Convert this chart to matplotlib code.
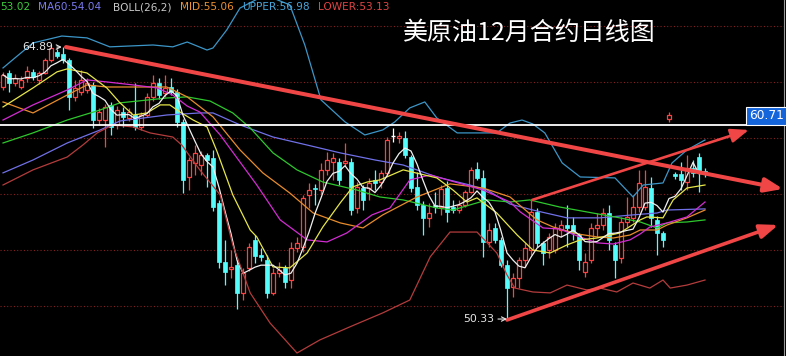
import matplotlib.pyplot as plt
import numpy as np
import pandas as pd

plt.rcParams['font.family'] = ['DejaVu Sans']

# daily candles (price)
opens = [62.73, 63.48, 62.95, 62.73, 63.21, 63.54, 63.11, 63.48, 64.18, 64.61,
         64.50, 64.18, 62.20, 62.47, 62.57, 62.84, 60.96, 60.96, 61.77, 60.70,
         61.39, 61.07, 61.23, 60.59, 61.23, 62.20, 62.95, 62.41, 62.73, 62.47,
         60.86, 57.91, 58.66, 58.55, 59.09, 58.93, 56.52, 53.36, 52.98, 53.20,
         51.70, 53.04, 54.54, 53.73, 53.46, 51.70, 52.77, 53.04, 52.39, 54.11,
         54.16, 56.95, 57.32, 57.21, 58.29, 58.71, 58.71, 58.66, 58.71, 56.25,
         57.32, 57.32, 57.75, 57.64, 58.12, 60.10, 59.98, 59.98, 58.98, 57.38,
         56.41, 55.72, 56.41, 56.30, 57.32, 56.30, 56.14, 56.41, 57.11, 58.34,
         57.86, 54.43, 55.18, 54.54, 53.20, 52.02, 52.50, 53.46, 54.00, 56.04,
         54.38, 54.00, 54.00, 55.07, 55.34, 55.34, 54.80, 52.82, 53.46, 55.18,
         55.34, 55.98, 54.27, 53.57, 55.50, 55.72, 56.30, 56.30, 57.32, 55.61,
         54.91, 61.02, 58.07, 58.07, 57.64, 58.39, 58.98, 58.23]
highs = [63.54, 63.64, 63.40, 63.30, 63.86, 63.70, 63.60, 64.30, 64.86, 64.75,
         64.89, 64.30, 63.10, 63.64, 63.20, 63.00, 61.60, 61.80, 61.90, 61.70,
         61.66, 61.60, 62.95, 61.40, 62.40, 63.38, 63.21, 63.38, 63.21, 62.60,
         61.00, 59.00, 59.62, 59.30, 59.20, 59.36, 56.70, 54.54, 54.00, 53.46,
         53.04, 54.37, 54.80, 54.10, 53.73, 53.04, 53.36, 53.20, 54.43, 54.70,
         56.95, 57.59, 57.54, 58.66, 59.25, 59.20, 58.90, 59.73, 58.90, 57.64,
         57.50, 57.86, 58.29, 58.29, 60.05, 60.54, 60.32, 60.38, 59.10, 58.18,
         56.60, 56.52, 57.11, 57.48, 57.70, 56.68, 56.68, 57.21, 58.45, 58.71,
         58.30, 55.45, 55.45, 54.70, 53.46, 52.77, 53.62, 54.37, 56.68, 56.25,
         54.50, 54.91, 55.45, 55.61, 56.41, 55.77, 54.90, 53.84, 55.45, 55.98,
         56.25, 56.41, 54.40, 55.77, 56.84, 56.95, 58.29, 58.29, 57.91, 55.80,
         55.00, 61.39, 58.20, 58.71, 59.09, 58.82, 59.20, 58.40]
lows = [62.57, 62.47, 62.80, 62.60, 63.00, 63.10, 62.90, 63.40, 64.05, 64.30,
        64.00, 61.50, 62.00, 62.30, 62.40, 60.54, 60.70, 59.52, 60.16, 60.50,
        60.59, 60.90, 60.40, 60.40, 61.10, 62.00, 62.10, 62.20, 62.30, 60.59,
        57.05, 57.21, 58.00, 58.02, 57.38, 56.10, 53.04, 52.12, 52.50, 50.84,
        51.32, 52.90, 53.30, 53.40, 51.43, 51.60, 52.55, 51.98, 51.96, 53.90,
        53.90, 56.25, 56.41, 57.00, 58.02, 57.75, 57.48, 58.50, 55.88, 55.99,
        56.14, 56.68, 57.21, 57.32, 58.02, 59.79, 59.73, 58.90, 57.10, 56.14,
        54.80, 55.23, 55.98, 55.88, 55.50, 55.98, 55.98, 56.30, 57.05, 57.75,
        53.62, 54.16, 54.37, 53.09, 50.33, 51.48, 51.96, 53.09, 53.73, 54.16,
        53.20, 53.57, 53.84, 54.70, 54.16, 54.54, 52.93, 52.55, 53.30, 54.70,
        55.07, 54.00, 52.50, 53.30, 55.23, 55.50, 56.04, 56.14, 55.23, 53.73,
        54.16, 60.86, 57.80, 57.21, 57.21, 57.90, 57.11, 57.90]
closes = [63.38, 62.95, 63.21, 63.11, 63.59, 63.27, 63.48, 64.18, 64.82, 64.39,
          64.18, 62.20, 62.68, 63.11, 62.95, 60.96, 61.39, 61.66, 60.59, 61.50,
          61.12, 61.39, 60.59, 61.23, 62.20, 62.95, 62.30, 62.68, 62.47, 60.86,
          57.75, 58.82, 59.20, 59.09, 58.82, 56.30, 53.36, 52.82, 53.09, 51.70,
          52.77, 54.16, 53.68, 53.62, 51.70, 52.77, 52.93, 52.28, 54.11, 54.37,
          56.79, 57.21, 57.27, 58.29, 58.82, 58.93, 57.75, 58.77, 56.14, 57.38,
          56.68, 57.59, 57.59, 58.12, 59.89, 60.10, 60.10, 59.09, 57.32, 56.41,
          55.72, 55.99, 56.30, 57.27, 56.04, 56.14, 56.41, 57.11, 58.29, 57.86,
          54.43, 55.07, 54.54, 53.20, 51.96, 52.50, 53.46, 54.11, 56.04, 54.38,
          53.84, 54.70, 55.18, 55.34, 55.18, 54.91, 53.46, 53.36, 55.18, 55.34,
          55.98, 54.54, 53.46, 55.50, 55.77, 56.30, 57.59, 57.38, 55.72, 54.91,
          54.54, 61.23, 57.97, 57.75, 58.39, 58.12, 58.18, 58.12]

# indicator lines: candle index -> price
upper_idx = [0, 2, 5, 9.8, 14, 17.8, 25, 28.3, 30.7, 34, 35, 37.3, 39.5, 43.7, 47.8,
             50.3, 53, 57, 60.3, 63.3, 65.3, 67.8, 70.3, 72.3, 75.7, 82.3, 84.5, 86.5,
             88.3, 90.3, 93.2, 96.2, 102, 105, 106.7, 110, 111.5, 114, 117]
upper_val = [63.75, 64.29, 65.09, 65.46, 65.36, 64.88, 64.98, 64.88, 65.14, 64.71, 64.82,
             65.79, 66.96, 67.66, 67.13, 64.98, 62.04, 60.86, 60.16, 60.43, 60.86, 61.61,
             61.93, 61.07, 60.27, 60.27, 60.80, 60.96, 60.75, 60.27, 58.66, 57.91, 57.86,
             56.84, 57.48, 57.59, 58.66, 59.36, 59.89]

lower_idx = [0, 5, 10.7, 13.3, 15.7, 18.3, 21.7, 24.5, 28.3, 29.8, 32.8, 36.2, 38.3,
             41.2, 44.5, 49, 52.8, 57.8, 63.3, 67.8, 71.2, 74.5, 79, 82.3, 84, 85.3,
             88.3, 91.2, 94, 97.3, 99.5, 102.3, 105, 107.8, 110, 111.2, 114, 117]
lower_val = [57.48, 58.29, 58.98, 59.62, 60.27, 60.70, 60.59, 60.27, 60.05, 59.62, 58.29,
             56.95, 54.27, 51.70, 50.09, 48.48, 49.18, 49.88, 50.63, 51.32, 53.63, 54.96,
             54.96, 53.84, 52.66, 51.96, 51.75, 51.70, 52.12, 51.86, 51.96, 51.75, 52.23,
             51.96, 52.39, 51.96, 52.12, 52.39]

ma10_idx = [0, 5, 9, 10.7, 14, 17.3, 19.5, 21.7, 24, 26.2, 27.8, 29.5, 31.7, 34, 35.7,
            38.3, 41.2, 42.3, 45, 47.8, 50.7, 53.3, 56.2, 58.3, 60.7, 62.8, 66.7, 72.3,
            75, 77.3, 79, 82.3, 85.7, 88.3, 91.2, 94, 96.2, 99, 102.8, 106.2, 107.3,
            110, 111.7, 114, 117]
ma10_val = [61.66, 62.68, 63.54, 63.70, 63.48, 62.68, 61.88, 61.23, 61.34, 61.77, 61.77,
            61.39, 60.96, 60.59, 59.25, 56.95, 55.07, 54.70, 53.09, 53.04, 53.84, 55.23,
            56.52, 57.38, 57.64, 57.75, 58.29, 57.86, 57.21, 56.57, 56.79, 55.98, 54.80,
            54.00, 53.84, 54.27, 54.54, 54.64, 54.91, 55.61, 55.77, 55.72, 56.68, 57.32,
            57.48]

ma20_idx = [0, 5, 10.7, 14, 17.3, 21.7, 25.7, 28.3, 30.7, 32.8, 36.2, 39.5, 42.3, 46.2,
            50.7, 54, 57.3, 61.5, 64.5, 67.8, 71.2, 80, 84.5, 86.2, 90, 92.8, 95.7, 99,
            101.7, 104.5, 106.2, 107.8, 110.7, 114, 117]
ma20_val = [60.96, 61.77, 62.57, 63.11, 63.00, 62.84, 62.68, 62.30, 61.71, 61.39, 60.16,
            58.71, 57.48, 55.61, 54.54, 54.43, 54.91, 55.88, 56.25, 57.75, 58.02, 57.21,
            56.57, 56.04, 55.18, 55.12, 54.75, 54.38, 54.32, 54.54, 54.86, 55.23, 55.45,
            55.77, 56.57]

mid_idx = [0, 5, 10.7, 14, 17.3, 21.7, 27.3, 30.7, 35, 39.5, 43.3, 47.8, 51.7, 56.2, 60,
           63.3, 69, 74.5, 80, 84.5, 89, 91.7, 95.7, 99, 101.7, 104.5, 106.2, 109, 110.7,
           114, 117]
mid_val = [61.93, 61.34, 62.30, 62.84, 62.73, 62.73, 62.73, 62.20, 61.13, 59.36, 58.13,
           57.05, 55.98, 55.45, 55.18, 55.88, 56.84, 57.54, 57.32, 56.84, 55.61, 55.23,
           54.86, 54.70, 54.64, 54.80, 55.07, 55.07, 55.34, 55.72, 56.14]

ma30_idx = [0, 5, 10.7, 16.2, 19.5, 27.3, 30.7, 34.5, 38.3, 41.2, 45, 49, 53.3, 59, 62.8,
            66.7, 72.3, 75, 77.8, 80.7, 84.5, 87.8, 92.8, 98.3, 102.8, 106.2, 109, 110.7,
            114, 117]
ma30_val = [59.73, 60.27, 60.96, 61.50, 61.88, 62.14, 62.20, 61.98, 61.34, 60.54, 59.20,
            58.29, 57.64, 57.21, 56.84, 56.68, 56.25, 56.14, 56.41, 56.68, 56.57, 56.68,
            56.30, 55.98, 55.72, 55.50, 55.18, 55.45, 55.50, 55.61]

ma60_idx = [0, 5, 10.7, 16.2, 19.5, 27.3, 32.8, 35, 39.5, 45, 50.7, 56.2, 62, 66.7, 72.3,
            77.8, 80.7, 84.5, 88.3, 94, 99.5, 105, 109, 110.7, 117]
ma60_val = [58.13, 58.82, 59.73, 60.43, 60.91, 61.23, 61.34, 61.34, 60.70, 60.05, 59.62,
            59.20, 58.82, 58.55, 57.91, 57.48, 57.21, 56.46, 56.14, 55.72, 55.72, 55.88,
            55.98, 56.14, 56.20]

grid_levels = [66, 63, 60, 57, 54, 51]
last_mark = 60.71
high_mark = 64.89
low_mark = 50.33

headers = [('53.02', '#3ccc3c'), ('MA60:54.04', '#7a7af0'), ('BOLL(26,2)', '#c8c8c8'),
           ('MID:55.06', '#ec9030'), ('UPPER:56.98', '#46a6dc'), ('LOWER:53.13', '#e04444')]
header_x = [0, 38, 113, 180, 242, 318]

fig = plt.figure(figsize=(7.86, 3.56), dpi=100, facecolor='black')
ax = fig.add_axes([0, 0, 1, 1], facecolor='black')
ax.set_xlim(-0.5, 130.5)
ax.set_ylim(48.32, 67.39)
ax.axis('off')

for g in grid_levels:
    ax.axhline(g, color='#8c1e1e', lw=0.8, ls=(0, (1, 2)), zorder=1)
ax.axvline(130.2, color='#9a9a9a', lw=0.8, zorder=1)

x = np.arange(len(closes))
o = np.array(opens)
c = np.array(closes)
up = c > o
down = c < o
flat = c == o

ax.vlines(x[up], np.array(lows)[up], np.array(highs)[up], color='#ff4040', lw=0.9, zorder=2)
ax.vlines(x[down], np.array(lows)[down], np.array(highs)[down], color='#54fcfc', lw=0.9, zorder=2)
ax.vlines(x[flat], np.array(lows)[flat], np.array(highs)[flat], color='white', lw=0.9, zorder=2)

h_up = np.maximum(c[up] - o[up], 0.06)
ax.bar(x[up], h_up, bottom=o[up], width=0.78, facecolor='black', edgecolor='#ff4040',
       lw=0.9, zorder=3)
h_dn = np.maximum(o[down] - c[down], 0.06)
ax.bar(x[down], h_dn, bottom=c[down], width=0.82, facecolor='#54fcfc', edgecolor='#54fcfc',
       lw=0.5, zorder=3)
ax.hlines(c[flat], x[flat] - 0.4, x[flat] + 0.4, color='white', lw=1.0, zorder=3)

# indicator lines
ma5 = pd.Series(closes).rolling(5, min_periods=1).mean()
ax.plot(ma60_idx, ma60_val, color='#7070e8', lw=0.9, zorder=4)
ax.plot(ma30_idx, ma30_val, color='#2ec82e', lw=0.9, zorder=4)
ax.plot(mid_idx, mid_val, color='#e88c2c', lw=0.9, zorder=4)
ax.plot(ma20_idx, ma20_val, color='#d22cd2', lw=0.9, zorder=4)
ax.plot(ma10_idx, ma10_val, color='#e6e64a', lw=0.9, zorder=4)
ax.plot(x, ma5, color='#f0f0f0', lw=0.9, zorder=4)
ax.plot(upper_idx, upper_val, color='#3c96c8', lw=0.9, zorder=4)
ax.plot(lower_idx, lower_val, color='#b43c3c', lw=0.9, zorder=4)

# last price line with label
ax.plot([-0.5, 124.2], [last_mark, last_mark], color='white', lw=1.3, zorder=5)
ax.text(127.25, 61.18, f'{last_mark:.2f}', color='white', fontsize=8.8, ha='center',
        va='center', zorder=7,
        bbox=dict(boxstyle='square,pad=0.22', fc='#1464dc', ec='white', lw=0.8))

# trend arrows
arrow_col = '#f04646'
trends = [((10.5, 64.87), (130.0, 57.27), 2.9),
          ((84.0, 50.25), (129.2, 55.34), 2.6),
          ((88.2, 56.68), (124.3, 60.43), 1.9)]
for start, end, lw in trends:
    ax.annotate('', xy=end, xytext=start, zorder=6,
                arrowprops=dict(arrowstyle='-|>,head_length=0.9,head_width=0.35',
                                mutation_scale=12, color=arrow_col, lw=lw,
                                shrinkA=0, shrinkB=0))

# high / low markers
ax.annotate(f'{high_mark:.2f}', xy=(9.8, 64.87), xytext=(8.3, 64.87), color='#e6e6e6',
            fontsize=7.8, ha='right', va='center', zorder=7,
            arrowprops=dict(arrowstyle='->', color='#e6e6e6', lw=0.8, shrinkA=1, shrinkB=0))
ax.annotate(f'{low_mark:.2f}', xy=(84.0, 50.30), xytext=(81.8, 50.30), color='#e6e6e6',
            fontsize=7.8, ha='right', va='center', zorder=7,
            arrowprops=dict(arrowstyle='->', color='#e6e6e6', lw=0.8, shrinkA=1, shrinkB=0))

for (txt, col), hx in zip(headers, header_x):
    fig.text(hx / 786, 1 - 7.5 / 356, txt, color=col, fontsize=7.6, va='center', ha='left')

fig.text(403 / 786, 1 - 33 / 356, '美原油12月合约日线图', color='white', fontsize=18,
         va='center', ha='left', family=['Noto Sans CJK SC', 'DejaVu Sans'])

fig.savefig('out.png', dpi=100, facecolor='black')
